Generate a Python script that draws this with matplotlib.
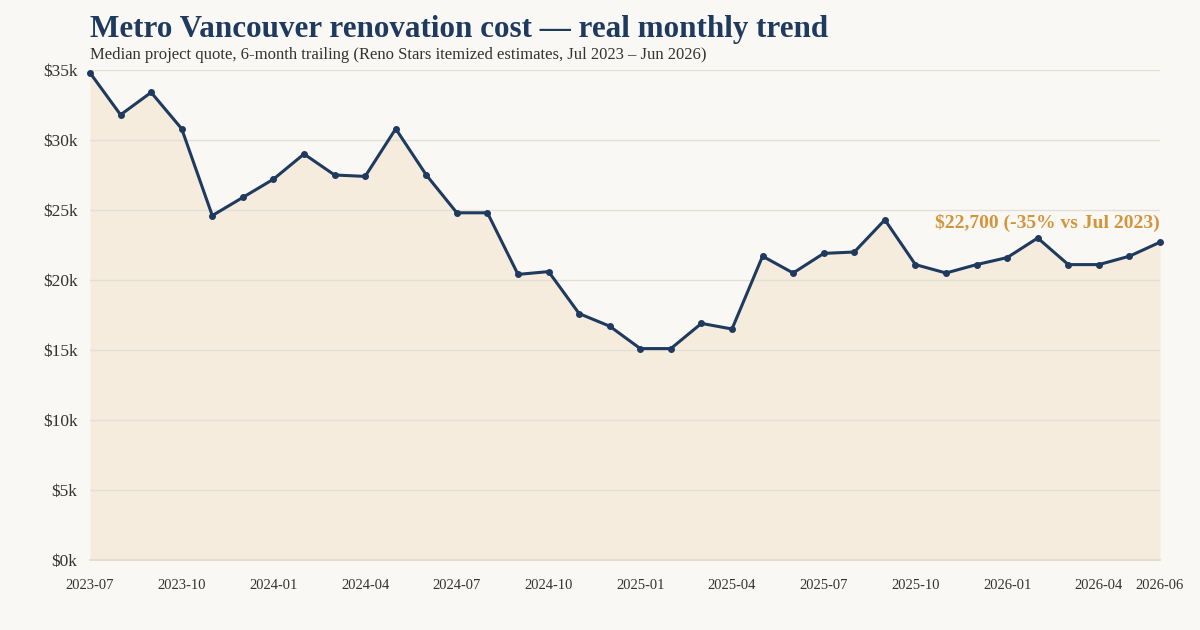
import matplotlib.pyplot as plt
from matplotlib.ticker import FuncFormatter

months = [
    "2023-07", "2023-08", "2023-09", "2023-10", "2023-11", "2023-12",
    "2024-01", "2024-02", "2024-03", "2024-04", "2024-05", "2024-06",
    "2024-07", "2024-08", "2024-09", "2024-10", "2024-11", "2024-12",
    "2025-01", "2025-02", "2025-03", "2025-04", "2025-05", "2025-06",
    "2025-07", "2025-08", "2025-09", "2025-10", "2025-11", "2025-12",
    "2026-01", "2026-02", "2026-03", "2026-04", "2026-05", "2026-06",
]
median_quote = [
    34800, 31800, 33400, 30800, 24600, 25900,
    27200, 29000, 27500, 27400, 30800, 27500,
    24800, 24800, 20400, 20600, 17600, 16700,
    15100, 15100, 16900, 16500, 21700, 20500,
    21900, 22000, 24300, 21100, 20500, 21100,
    21600, 23000, 21100, 21100, 21700, 22700,
]
tick_months = ["2023-07", "2023-10", "2024-01", "2024-04", "2024-07", "2024-10",
               "2025-01", "2025-04", "2025-07", "2025-10", "2026-01", "2026-04",
               "2026-06"]

BG = "#faf8f4"
NAVY = "#1f3a5f"
GOLD = "#d4943a"
FILL = "#f5ecdd"

plt.rcParams['font.family'] = ['Liberation Serif', 'DejaVu Serif']

fig = plt.figure(figsize=(12, 6.3), dpi=100, facecolor=BG)
ax = fig.add_axes([90 / 1200, 1 - 560 / 630, 1070 / 1200, 490 / 630])
ax.set_facecolor(BG)

x = list(range(len(months)))
ax.fill_between(x, median_quote, 0, color=FILL, zorder=1, linewidth=0)
ax.plot(x, median_quote, color=NAVY, linewidth=2.2, marker="o", markersize=4,
        zorder=3, solid_joinstyle="round", clip_on=False)

ax.set_xlim(0, len(months) - 1)
ax.set_ylim(0, 35000)
ax.set_yticks(range(0, 35001, 5000))
ax.yaxis.set_major_formatter(FuncFormatter(lambda v, p: f"${v/1000:.0f}k"))
ax.set_xticks([months.index(m) for m in tick_months])
ax.set_xticklabels(tick_months)

ax.grid(axis="y", color="#e4dfd6", linewidth=1, zorder=2)
ax.set_axisbelow(False)
for side in ["top", "right", "left"]:
    ax.spines[side].set_visible(False)
ax.spines["bottom"].set_color("#e0d9cc")
ax.spines["bottom"].set_linewidth(1.2)
ax.tick_params(axis="both", length=0, colors="#333333")
ax.tick_params(axis="y", pad=9, labelsize=12.5)
ax.tick_params(axis="x", pad=14, labelsize=10.5)

last = median_quote[-1]
pct = round((last - median_quote[0]) / median_quote[0] * 100)
ax.annotate(f"${last:,.0f} ({pct}% vs Jul 2023)", xy=(x[-1], last),
            xytext=(0, 7), textcoords="offset points", ha="right", va="bottom",
            color=GOLD, fontsize=14, fontweight="bold", zorder=4)

fig.text(90 / 1200, 1 - 29 / 630, "Metro Vancouver renovation cost \u2014 real monthly trend",
         fontsize=22.4, fontweight="bold", color=NAVY, va="center")
fig.text(90 / 1200, 1 - 55 / 630,
         "Median project quote, 6-month trailing (Reno Stars itemized estimates, Jul 2023 \u2013 Jun 2026)",
         fontsize=12, color="#333333", va="center")

fig.savefig("out.png", dpi=100, facecolor=BG)
